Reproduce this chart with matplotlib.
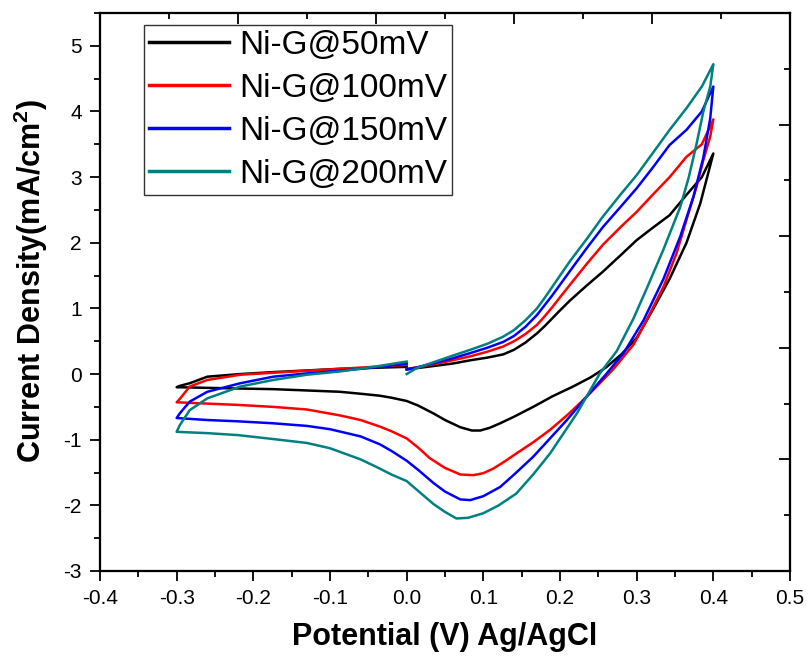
import matplotlib
matplotlib.use("Agg")
import matplotlib.pyplot as plt
from matplotlib.ticker import MultipleLocator, NullFormatter, FuncFormatter

plt.rcParams["font.family"] = ["Liberation Sans", "DejaVu Sans"]
plt.rcParams["mathtext.fontset"] = "custom"
plt.rcParams["mathtext.rm"] = "Liberation Sans"
plt.rcParams["mathtext.bf"] = "Liberation Sans:bold"

# anodic sweep 0 -> 0.4 V (shared potentials)
UP_X = [0.0, 0.013, 0.04, 0.06, 0.083, 0.105, 0.126, 0.14, 0.155, 0.17, 0.18, 0.19, 0.2, 0.213,
        0.235, 0.256, 0.28, 0.30, 0.32, 0.343, 0.365, 0.385, 0.40]
UP_50 = [0.07, 0.09, 0.13, 0.16, 0.21, 0.25, 0.30, 0.37, 0.48, 0.62, 0.73, 0.85, 0.97, 1.12,
         1.35, 1.56, 1.82, 2.04, 2.22, 2.42, 2.73, 3.0, 3.36]
UP_100 = [0.08, 0.10, 0.16, 0.21, 0.27, 0.34, 0.42, 0.50, 0.61, 0.75, 0.88, 1.02, 1.17, 1.36,
          1.68, 1.97, 2.25, 2.47, 2.72, 3.0, 3.31, 3.5, 3.88]
UP_150 = [0.07, 0.10, 0.18, 0.24, 0.32, 0.40, 0.49, 0.58, 0.72, 0.90, 1.05, 1.2, 1.36, 1.57,
          1.92, 2.24, 2.56, 2.83, 3.13, 3.49, 3.72, 4.0, 4.38]
UP_200 = [0.0, 0.09, 0.2, 0.28, 0.37, 0.46, 0.57, 0.67, 0.82, 1.0, 1.16, 1.33, 1.5, 1.72,
          2.06, 2.40, 2.75, 3.03, 3.35, 3.72, 4.05, 4.38, 4.72]

# cathodic sweep 0.4 -> -0.3 V
DN_X_50 = [0.4, 0.383, 0.365, 0.343, 0.322, 0.30, 0.28, 0.26, 0.24, 0.217, 0.19, 0.165, 0.14, 0.122,
           0.108, 0.096, 0.085, 0.07, 0.05, 0.035, 0.015, 0.0, -0.02, -0.035, -0.06, -0.087, -0.13,
           -0.174, -0.22, -0.26, -0.30]
DN_50 = [3.36, 2.6, 2.0, 1.45, 1.0, 0.55, 0.3, 0.1, -0.05, -0.19, -0.34, -0.50, -0.65, -0.75,
         -0.82, -0.86, -0.86, -0.81, -0.70, -0.60, -0.48, -0.41, -0.36, -0.33, -0.30, -0.27, -0.25,
         -0.23, -0.22, -0.21, -0.20]
DN_X_100 = [0.40, 0.396, 0.387, 0.378, 0.365, 0.352, 0.335, 0.313, 0.296, 0.27, 0.252, 0.23, 0.21,
            0.187, 0.165, 0.143, 0.128, 0.113, 0.10, 0.087, 0.07, 0.05, 0.03, 0.015, 0.0, -0.02,
            -0.035, -0.06, -0.087, -0.13, -0.174, -0.22, -0.26, -0.30]
DN_100 = [3.88, 3.62, 3.26, 2.85, 2.35, 1.84, 1.33, 0.82, 0.45, 0.08, -0.14, -0.40, -0.62,
          -0.85, -1.04, -1.21, -1.33, -1.44, -1.51, -1.54, -1.53, -1.43, -1.28, -1.12, -0.98, -0.87,
          -0.80, -0.70, -0.63, -0.54, -0.50, -0.47, -0.45, -0.43]
DN_X_150 = [0.40, 0.396, 0.387, 0.374, 0.357, 0.335, 0.309, 0.283, 0.261, 0.235, 0.209, 0.187,
            0.165, 0.143, 0.122, 0.10, 0.083, 0.07, 0.05, 0.035, 0.015, 0.0, -0.02, -0.035, -0.06,
            -0.10, -0.13, -0.174, -0.22, -0.26, -0.30]
DN_150 = [4.38, 3.9, 3.3, 2.7, 2.1, 1.45, 0.82, 0.32, 0.01, -0.34, -0.70, -0.98,
          -1.26, -1.50, -1.72, -1.86, -1.92, -1.91, -1.79, -1.66, -1.46, -1.32, -1.17, -1.07, -0.95,
          -0.84, -0.79, -0.75, -0.72, -0.70, -0.67]
DN_X_200 = [0.40, 0.396, 0.387, 0.378, 0.368, 0.357, 0.335, 0.313, 0.296, 0.274, 0.252, 0.222,
            0.187, 0.165, 0.143, 0.12, 0.10, 0.08, 0.065, 0.05, 0.035, 0.015, 0.0, -0.02, -0.035,
            -0.06, -0.10, -0.13, -0.174, -0.22, -0.26, -0.30]
DN_200 = [4.72, 4.38, 4.0, 3.5, 3.0, 2.55, 1.9, 1.3, 0.85, 0.35, 0.01, -0.60,
          -1.21, -1.53, -1.82, -2.0, -2.12, -2.19, -2.20, -2.10, -1.98, -1.78, -1.63, -1.53, -1.44,
          -1.30, -1.13, -1.05, -0.99, -0.93, -0.90, -0.88]

# anodic return -0.3 -> 0 V (shared potentials)
RET_X = [-0.30, -0.296, -0.283, -0.26, -0.217, -0.174, -0.13, -0.087, -0.043, 0.0]
RET_50 = [-0.20, -0.18, -0.14, -0.04, 0.0, 0.03, 0.055, 0.08, 0.095, 0.11]
RET_100 = [-0.43, -0.38, -0.19, -0.09, -0.01, 0.02, 0.05, 0.08, 0.11, 0.14]
RET_150 = [-0.67, -0.60, -0.42, -0.27, -0.14, -0.04, 0.01, 0.05, 0.10, 0.16]
RET_200 = [-0.88, -0.78, -0.55, -0.37, -0.19, -0.09, -0.01, 0.04, 0.11, 0.19]

LABELS = ["Ni-G@50mV", "Ni-G@100mV", "Ni-G@150mV", "Ni-G@200mV"]
COLORS = ["#000000", "#FF0000", "#0000FF", "#008080"]

series = [
    (UP_50, DN_X_50, DN_50, RET_50),
    (UP_100, DN_X_100, DN_100, RET_100),
    (UP_150, DN_X_150, DN_150, RET_150),
    (UP_200, DN_X_200, DN_200, RET_200),
]

fig = plt.figure(figsize=(8.09, 6.6), dpi=100)
ax = fig.add_axes([100 / 809, 89 / 660, 690 / 809, 558 / 660])

for (up, dn_x, dn, ret), lab, col in zip(series, LABELS, COLORS):
    xs = UP_X + dn_x + RET_X
    ys = up + dn + ret
    ax.plot(xs, ys, color=col, lw=1.8, label=lab, solid_joinstyle="round")

ax.set_xlim(-0.4, 0.5)
ax.set_ylim(-3, 5.5)
ax.xaxis.set_major_locator(MultipleLocator(0.1))
ax.xaxis.set_minor_locator(MultipleLocator(0.05))
ax.yaxis.set_major_locator(MultipleLocator(1))
ax.yaxis.set_minor_locator(MultipleLocator(0.5))
ax.xaxis.set_major_formatter(FuncFormatter(lambda v, p: f"{v:.1f}"))
ax.yaxis.set_major_formatter(FuncFormatter(lambda v, p: f"{v:.0f}"))
ax.tick_params(which="both", direction="out", width=1.3, labelsize=15, top=False, right=False)
ax.tick_params(which="major", length=7, pad=6)
ax.tick_params(which="minor", length=4)
for s in ax.spines.values():
    s.set_linewidth(1.5)

ax.set_xlabel("Potential (V) Ag/AgCl", fontsize=22, fontweight="bold", labelpad=10)
ax.set_ylabel(r"Current Density(mA/cm$^{\mathbf{2}}$)", fontsize=22, fontweight="bold")
ax.yaxis.set_label_coords(-0.072, 0.52)

leg = ax.legend(loc="upper left", bbox_to_anchor=(0.064, 0.979), borderaxespad=0,
                fontsize=24, frameon=True, fancybox=False, framealpha=1,
                handlelength=2.4, handletextpad=0.3, labelspacing=0.36, borderpad=0.15)
leg.get_frame().set_edgecolor("#333333")
leg.get_frame().set_linewidth(1.0)
for h in leg.get_lines():
    h.set_linewidth(2.5)

# unlinked top / right axes with inward ticks
axt = ax.twiny()
axt.set_xlim(0, 1)
axt.xaxis.set_major_locator(MultipleLocator(0.2))
axt.xaxis.set_minor_locator(MultipleLocator(0.1))
axt.xaxis.set_major_formatter(NullFormatter())
axt.tick_params(which="both", direction="in", width=1.3)
axt.tick_params(which="major", length=8)
axt.tick_params(which="minor", length=4)
axr = ax.twinx()
axr.set_ylim(0, 1)
axr.yaxis.set_major_locator(MultipleLocator(0.2))
axr.yaxis.set_minor_locator(MultipleLocator(0.1))
axr.yaxis.set_major_formatter(NullFormatter())
axr.tick_params(which="both", direction="in", width=1.3)
axr.tick_params(which="major", length=8)
axr.tick_params(which="minor", length=4)
for a in (axt, axr):
    for s in a.spines.values():
        s.set_linewidth(1.5)

fig.savefig("out.png", dpi=100, facecolor="white")
